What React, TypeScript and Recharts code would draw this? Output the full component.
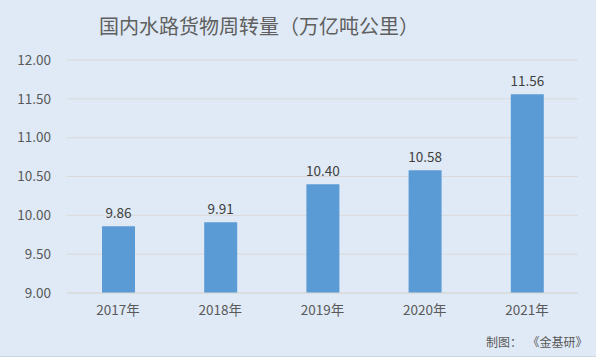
import React from "react";
import { Bar, BarChart, CartesianGrid, LabelList, XAxis, YAxis } from "recharts";

const years = ["2017年", "2018年", "2019年", "2020年", "2021年"];
const volumes = [9.86, 9.91, 10.4, 10.58, 11.56];
const yTicks = [9, 9.5, 10, 10.5, 11, 11.5, 12];

const data = years.map((year, i) => ({ year, value: volumes[i] }));

const font = '"Noto Sans CJK SC", "Noto Sans", sans-serif';

export default function App() {
  return (
    <div
      style={{
        position: "fixed",
        left: 0,
        top: 0,
        width: 596,
        height: 357,
        background: "#dfeaf6",
        fontFamily: font,
        boxSizing: "border-box",
        borderBottom: "1px solid #cdd5de",
      }}
    >
      <div
        style={{
          position: "absolute",
          left: 99,
          top: 11,
          fontSize: 20,
          lineHeight: "30px",
          color: "#5f5f5f",
          whiteSpace: "nowrap",
        }}
      >
        国内水路货物周转量（万亿吨公里）
      </div>
      <BarChart
        width={596}
        height={357}
        data={data}
        margin={{ top: 60, right: 18, left: 0, bottom: 0 }}
      >
        <CartesianGrid vertical={false} stroke="#d9d9d9" />
        <XAxis
          dataKey="year"
          height={64}
          tickLine={false}
          axisLine={{ stroke: "#d9d9d9" }}
          tickMargin={6}
          tick={{ fill: "#595959", fontSize: 13.5, fontFamily: font }}
        />
        <YAxis
          width={67}
          domain={[9, 12]}
          ticks={yTicks}
          interval={0}
          axisLine={false}
          tickLine={false}
          tickMargin={10}
          tickFormatter={(v: number) => v.toFixed(2)}
          tick={{ fill: "#595959", fontSize: 13.5, fontFamily: font }}
        />
        <Bar dataKey="value" fill="#5b9bd5" barSize={33} isAnimationActive={false}>
          <LabelList
            dataKey="value"
            position="top"
            offset={8}
            formatter={(v: any) => Number(v).toFixed(2)}
            style={{ fill: "#404040", fontSize: 13.5, fontFamily: font }}
          />
        </Bar>
      </BarChart>
      <div
        style={{
          position: "absolute",
          left: 486,
          top: 333,
          fontSize: 12,
          lineHeight: "18px",
          color: "#595959",
          whiteSpace: "pre",
        }}
      >
        {"制图：  《金基研》"}
      </div>
    </div>
  );
}
